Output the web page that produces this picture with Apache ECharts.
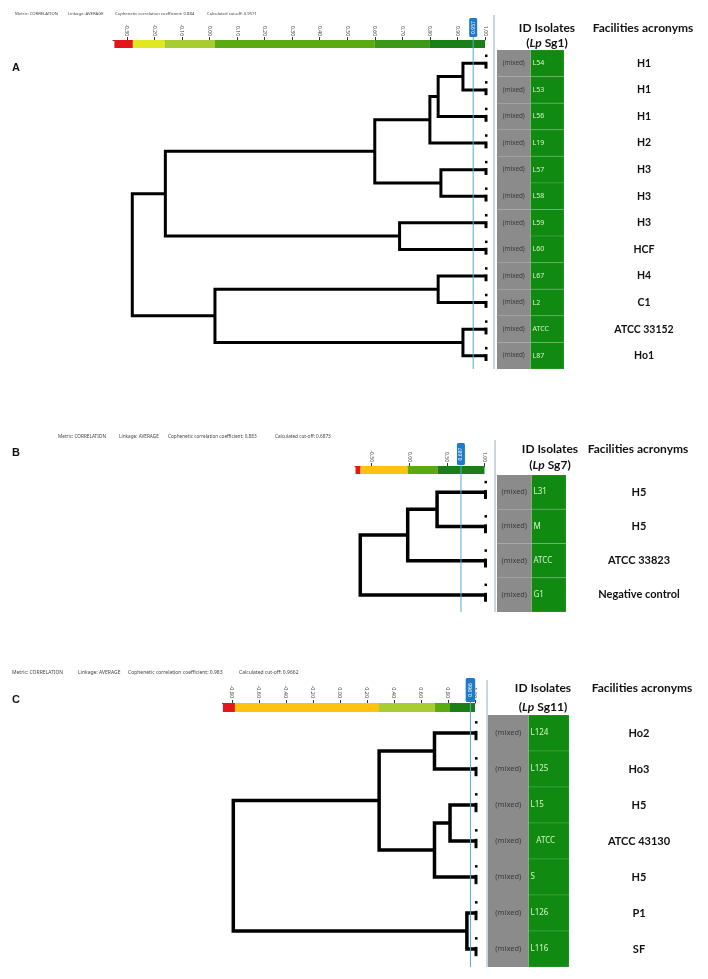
<!DOCTYPE html>
<html><head><meta charset="utf-8">
<script src="https://cdn.jsdelivr.net/npm/echarts@6/dist/echarts.min.js"></script>
<style>html,body{margin:0;padding:0;background:#fff}#c{width:708px;height:979px}</style>
</head><body><div id="c"></div>
<script>
// ---------- Panel A (Lp Sg1) ----------
const idsA = ['L54','L53','L56','L19','L57','L58','L59','L60','L67','L2','ATCC','L87'];
const facA = ['H1','H1','H1','H2','H3','H3','H3','HCF','H4','C1','ATCC 33152','Ho1'];
const mergeLeftA   = [0, 12, 13, 4, 14, 6, 16, 8, 10, 19, 18];
const mergeRightA  = [1, 2, 3, 5, 15, 7, 17, 9, 11, 20, 21];
const mergeHeightA = [0.92, 0.83, 0.80, 0.84, 0.60, 0.69, -0.16, 0.83, 0.92, 0.02, -0.28];
const ticksA = [-0.3,-0.2,-0.1,0,0.1,0.2,0.3,0.4,0.5,0.6,0.7,0.8,0.9,1.0];
const bandStopsA = [-0.345,-0.278,-0.162,0.02,0.60,0.80,1.0];
const cutA = 0.9571;
const headerA = ['Metric: CORRELATION','Linkage: AVERAGE','Cophenetic correlation coefficient: 0.884','Calculated cut-off: 0.9571'];

// ---------- Panel B (Lp Sg7) ----------
const idsB = ['L31','M','ATCC','G1'];
const facB = ['H5','H5','ATCC 33823','Negative control'];
const mergeLeftB   = [0, 4, 5];
const mergeRightB  = [1, 2, 3];
const mergeHeightB = [0.37, -0.02, -0.65];
const ticksB = [-0.5, 0, 0.5, 1.0];
const bandStopsB = [-0.713,-0.647,-0.02,0.38,1.0];
const cutB = 0.6873;
const headerB = ['Metric: CORRELATION','Linkage: AVERAGE','Cophenetic correlation coefficient: 0.883','Calculated cut-off: 0.6873'];

// ---------- Panel C (Lp Sg11) ----------
const idsC = ['L124','L125','L15','ATCC','S','L126','L116'];
const facC = ['Ho2','Ho3','H5','ATCC 43130','H5','P1','SF'];
const mergeLeftC   = [0, 2, 8, 7, 5, 10];
const mergeRightC  = [1, 3, 4, 9, 6, 11];
const mergeHeightC = [0.70, 0.815, 0.70, 0.29, 0.94, -0.79];
const ticksC = [-0.8,-0.6,-0.4,-0.2,0,0.2,0.4,0.6,0.8,1.0];
const bandStopsC = [-0.867,-0.778,0.289,0.704,0.815,1.0];
const cutC = 0.9662;
const headerC = ['Metric: CORRELATION','Linkage: AVERAGE','Cophenetic correlation coefficient: 0.983','Calculated cut-off: 0.9662'];

const leafX = 1.0;
const typeLabel = '(mixed)';

// ---------- layout / style (not data) ----------
const RED='#e3161b', YEL='#dfe820', LGR='#a7cd30', GRN='#5aab12', MGR='#3c9818', DGR='#1b7f18', ORA='#ffc20e';
const panels = [
  {ids:idsA, fac:facA, L:mergeLeftA, R:mergeRightA, H:mergeHeightA, ticks:ticksA, stops:bandStopsA, cut:cutA, header:headerA,
   colors:[RED,YEL,LGR,GRN,MGR,DGR], min:-0.35,
   dendro:{left:113, width:372, top:50, height:319}, table:{left:497, width:67},
   offset:10, barH:8, lw:3, tickFont:5, labelMargin:4, boxW:8, boxH:19, boxGap:3,
   facMargin:80, facSize:10.5, idSize:7, mixSize:6.3, sepGap:3, sepTop:35, centerIds:false,
   headerY:14, headerX:[15,68,115,207], headerSize:4.2,
   letter:'A', letterY:68, sub:'Sg1', idHdr:[547,28,43], facHdr:[643,28], facDy:[]},
  {ids:idsB, fac:facB, L:mergeLeftB, R:mergeRightB, H:mergeHeightB, ticks:ticksB, stops:bandStopsB, cut:cutB, header:headerB,
   colors:[RED,ORA,GRN,DGR], min:-0.72,
   dendro:{left:355, width:129.5, top:475, height:137}, table:{left:497, width:69},
   offset:9, barH:8, lw:3.5, tickFont:5, labelMargin:4, boxW:8, boxH:22, boxGap:1,
   facMargin:73, facSize:11, idSize:8, mixSize:7.3, sepGap:2, sepTop:35, centerIds:false,
   headerY:437, headerX:[58,119,168,275], headerSize:4.7,
   letter:'B', letterY:453, sub:'Sg7', idHdr:[550,449,465], facHdr:[638,449]},
  {ids:idsC, fac:facC, L:mergeLeftC, R:mergeRightC, H:mergeHeightC, ticks:ticksC, stops:bandStopsC, cut:cutC, header:headerC,
   colors:[RED,ORA,LGR,GRN,DGR], min:-0.87,
   dendro:{left:222.5, width:252.5, top:715, height:252}, table:{left:488, width:81},
   offset:12, barH:9, lw:3.5, tickFont:5.4, labelMargin:5, boxW:9.5, boxH:24, boxGap:1,
   facMargin:70, facSize:11, idSize:8, mixSize:7.5, sepGap:1, sepTop:35, centerIds:true,
   headerY:673, headerX:[12,78,128,239], headerSize:5,
   letter:'C', letterY:700, sub:'Sg11', idHdr:[543,688,707], facHdr:[642,688]}
];

function buildTree(n, L, R, H) {
  const ny = [], nx = [], segs = [];
  for (let i = 0; i < n; i++) { ny[i] = i; nx[i] = leafX; }
  for (let k = 0; k < L.length; k++) {
    const a = L[k], b = R[k], h = H[k];
    segs.push([h, ny[a], ny[b], nx[a], nx[b]]);
    ny[n + k] = (ny[a] + ny[b]) / 2;
    nx[n + k] = h;
  }
  return segs;
}

const grid = [], xAxis = [], yAxis = [], series = [], graphic = [];
const FONT = 'Lato';

panels.forEach((P, k) => {
  const n = P.ids.length;
  const gi = 2 * k, ti = 2 * k + 1;
  grid.push({left:P.dendro.left, width:P.dendro.width, top:P.dendro.top, height:P.dendro.height});
  grid.push({left:P.table.left, width:P.table.width, top:P.dendro.top, height:P.dendro.height});
  xAxis.push({gridIndex:gi, type:'value', position:'top', offset:P.offset, min:P.min, max:1.0,
    axisLine:{show:true, onZero:false, lineStyle:{color:'#4a4a4a', width:1}},
    axisTick:{show:true, length:3, customValues:P.ticks, lineStyle:{color:'#333', width:1}},
    axisLabel:{show:true, rotate:90, fontSize:P.tickFont, color:'#444', margin:P.labelMargin, customValues:P.ticks,
      fontFamily:'Noto Sans', formatter:v => v.toFixed(2)},
    splitLine:{show:false}});
  yAxis.push({gridIndex:gi, type:'value', inverse:true, min:-0.5, max:n - 0.5, show:false});
  xAxis.push({gridIndex:ti, type:'value', min:0, max:2, show:false});
  yAxis.push({gridIndex:ti, type:'category', inverse:true, position:'right', data:P.ids,
    axisLine:{show:false}, axisTick:{show:false}, splitLine:{show:false},
    axisLabel:{show:true, interval:0, align:'center', margin:P.facMargin, fontSize:P.facSize, fontWeight:'bold',
      fontFamily:FONT, color:'#111', formatter:(v, i) => P.fac[i]}});

  // colour scale bar
  series.push({type:'custom', xAxisIndex:gi, yAxisIndex:gi, silent:true, z:1,
    data:P.stops.slice(0, -1).map((s, i) => [s, P.stops[i + 1]]),
    renderItem:(params, api) => {
      const cs = params.coordSys;
      const x0 = api.coord([api.value(0), 0])[0], x1 = api.coord([api.value(1), 0])[0];
      return {type:'rect', shape:{x:x0, y:cs.y - P.offset, width:x1 - x0, height:P.barH},
        style:{fill:P.colors[params.dataIndex]}};
    }});

  // dendrogram
  series.push({type:'custom', xAxisIndex:gi, yAxisIndex:gi, silent:true, z:3,
    dimensions:['h','ya','yb','xa','xb'], encode:{x:[0,3,4], y:[1,2]},
    data:buildTree(n, P.L, P.R, P.H),
    renderItem:(params, api) => {
      const h = api.value(0), ya = api.value(1), yb = api.value(2), xa = api.value(3), xb = api.value(4);
      const pts = [api.coord([xa, ya]), api.coord([h, ya]), api.coord([h, yb]), api.coord([xb, yb])];
      return {type:'polyline', shape:{points:pts},
        style:{stroke:'#000', lineWidth:P.lw, fill:null, lineJoin:'miter', lineCap:'butt'}};
    }});

  // leaf marks
  series.push({type:'custom', xAxisIndex:gi, yAxisIndex:gi, silent:true, z:4,
    data:P.ids.map((_, i) => [leafX, i]),
    renderItem:(params, api) => {
      const p = api.coord([api.value(0), api.value(1)]);
      const h = api.size([0, 1])[1];
      return {type:'group', children:[
        {type:'rect', shape:{x:p[0] - 0.5, y:p[1] - 0.06 * h, width:3, height:0.26 * h}, style:{fill:'#000'}},
        {type:'rect', shape:{x:p[0], y:p[1] - 0.33 * h, width:2.5, height:2.5}, style:{fill:'#000'}}
      ]};
    }});

  // cut-off line and tag
  series.push({type:'custom', xAxisIndex:gi, yAxisIndex:gi, silent:true, z:5,
    data:[[P.cut, 0]],
    renderItem:(params, api) => {
      const cs = params.coordSys;
      const x = api.coord([api.value(0), 0])[0];
      const barTop = cs.y - P.offset;
      const boxBottom = barTop - P.boxGap, boxTop = boxBottom - P.boxH;
      return {type:'group', children:[
        {type:'line', shape:{x1:x, y1:boxBottom, x2:x, y2:cs.y + cs.height}, style:{stroke:'#5aa8d8', lineWidth:1}},
        {type:'rect', shape:{x:x - P.boxW / 2, y:boxTop, width:P.boxW, height:P.boxH, r:1.5}, style:{fill:'#1f7bc9'}},
        {type:'text', x:x, y:(boxTop + boxBottom) / 2, rotation:Math.PI / 2,
          style:{text:api.value(0).toFixed(3), fill:'#fff', fontSize:P.tickFont, fontFamily:'Noto Sans',
            align:'center', verticalAlign:'middle', textAlign:'center', textVerticalAlign:'middle'}}
      ]};
    }});

  // ID table
  series.push({type:'custom', xAxisIndex:ti, yAxisIndex:ti, silent:true, z:2,
    data:P.ids.map((_, i) => [0, i]),
    renderItem:(params, api) => {
      const cs = params.coordSys;
      const i = api.value(1);
      const c0 = api.coord([0, i]), c1 = api.coord([1, i]), c2 = api.coord([2, i]);
      const h = api.size([0, 1])[1];
      const y0 = c0[1] - h / 2;
      const id = P.ids[params.dataIndex];
      const centered = P.centerIds && id.length >= 4 && /^[A-Z]+$/.test(id);
      const ch = [
        {type:'rect', shape:{x:c0[0], y:y0, width:c1[0] - c0[0], height:h}, style:{fill:'#8b8b8b'}},
        {type:'rect', shape:{x:c1[0], y:y0, width:c2[0] - c1[0], height:h},
          style:{fill:'#118a12', stroke:'rgba(255,255,255,0.13)', lineWidth:1}},
        {type:'text', x:(c0[0] + c1[0]) / 2, y:c0[1],
          style:{text:typeLabel, fill:'#3b3b3b', fontSize:P.mixSize, fontFamily:'Noto Sans',
            align:'center', verticalAlign:'middle', textAlign:'center', textVerticalAlign:'middle'}},
        {type:'text', x:centered ? (c1[0] + c2[0]) / 2 - 3 : c1[0] + 2, y:c0[1],
          style:{text:id, fill:'#d6f5c6', fontSize:P.idSize, fontFamily:'Noto Sans',
            align:centered ? 'center' : 'left', verticalAlign:'middle',
            textAlign:centered ? 'center' : 'left', textVerticalAlign:'middle'}}
      ];
      if (params.dataIndex === 0) {
        ch.unshift({type:'rect', shape:{x:cs.x - P.sepGap - 1, y:cs.y - P.sepTop, width:2, height:cs.height + P.sepTop},
          style:{fill:'#c9d6df'}});
      }
      return {type:'group', children:ch};
    }});

  // header texts
  P.header.forEach((t, j) => {
    graphic.push({type:'text', x:P.headerX[j], y:P.headerY,
      style:{text:t, fill:'#444', fontSize:P.headerSize, fontFamily:'Noto Sans',
        align:'left', verticalAlign:'middle', textAlign:'left', textVerticalAlign:'middle'}});
  });
  graphic.push({type:'text', x:12, y:P.letterY,
    style:{text:P.letter, fill:'#111', fontSize:11, fontWeight:'bold', fontFamily:'Liberation Sans',
      align:'left', verticalAlign:'middle', textAlign:'left', textVerticalAlign:'middle'}});
  graphic.push({type:'text', x:P.idHdr[0], y:P.idHdr[1],
    style:{text:'ID Isolates', fill:'#111', fontSize:12, fontWeight:'bold', fontFamily:FONT,
      align:'center', verticalAlign:'middle', textAlign:'center', textVerticalAlign:'middle'}});
  graphic.push({type:'text', x:P.idHdr[0], y:P.idHdr[2],
    style:{text:'{n|(}{i|Lp}{n| ' + P.sub + ')}', fill:'#111', fontSize:12, fontWeight:'bold', fontFamily:FONT,
      align:'center', verticalAlign:'middle', textAlign:'center', textVerticalAlign:'middle',
      rich:{n:{fontSize:12, fontWeight:'bold', fontFamily:FONT, fill:'#111'},
            i:{fontSize:12, fontWeight:'bold', fontStyle:'italic', fontFamily:FONT, fill:'#111'}}}});
  graphic.push({type:'text', x:P.facHdr[0], y:P.facHdr[1],
    style:{text:'Facilities acronyms', fill:'#111', fontSize:12, fontWeight:'bold', fontFamily:FONT,
      align:'center', verticalAlign:'middle', textAlign:'center', textVerticalAlign:'middle'}});
});

const chart = echarts.init(document.getElementById('c'), null, {renderer:'canvas', width:708, height:979});
chart.setOption({animation:false, backgroundColor:'#fff', grid, xAxis, yAxis, series, graphic});
</script>
</body></html>
